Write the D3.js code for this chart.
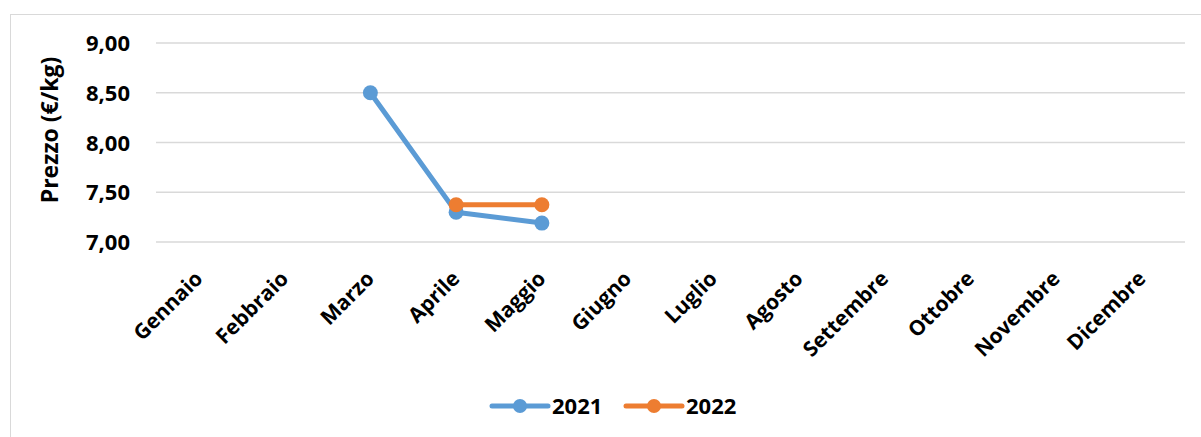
<!DOCTYPE html>
<html>
<head>
<meta charset="utf-8">
<script src="https://cdn.jsdelivr.net/npm/d3@7"></script>
<style>
  body { margin: 0; background: #fff; }
  svg text { font-family: "Open Sans", sans-serif; font-weight: bold; fill: #000; }
</style>
</head>
<body>
<div id="chart"></div>
<script>
var months = ["Gennaio", "Febbraio", "Marzo", "Aprile", "Maggio", "Giugno",
  "Luglio", "Agosto", "Settembre", "Ottobre", "Novembre", "Dicembre"];
var prices2021 = [null, null, 8.50, 7.30, 7.19, null, null, null, null, null, null, null];
var prices2022 = [null, null, null, 7.375, 7.375, null, null, null, null, null, null, null];
var yTicks = [7.0, 7.5, 8.0, 8.5, 9.0];
var seriesNames = ["2021", "2022"];
var seriesColors = ["#5B9BD5", "#ED7D31"];

var svgWidth = 1201;
var svgHeight = 437;

var margin = { top: 43, right: 16, bottom: 195, left: 156 };
var width = svgWidth - margin.left - margin.right;
var height = svgHeight - margin.top - margin.bottom;

var svg = d3.select("#chart")
  .append("svg")
  .attr("width", svgWidth)
  .attr("height", svgHeight);

// chart area border
svg.append("rect")
  .attr("x", 10.5)
  .attr("y", 14.5)
  .attr("width", 1200)
  .attr("height", 440)
  .attr("fill", "none")
  .attr("stroke", "#d9d9d9")
  .attr("stroke-width", 1);

var chartGroup = svg.append("g")
  .attr("transform", `translate(${margin.left}, ${margin.top})`);

var xScale = d3.scaleBand()
  .domain(months)
  .range([0, width]);

var yScale = d3.scaleLinear()
  .domain([7, 9])
  .range([height, 0]);

// gridlines
chartGroup.selectAll(".grid")
  .data(yTicks)
  .enter()
  .append("line")
  .attr("x1", 0)
  .attr("x2", width)
  .attr("y1", d => yScale(d))
  .attr("y2", d => yScale(d))
  .attr("stroke", "#d9d9d9")
  .attr("stroke-width", 1.5);

// y axis labels
var leftAxis = d3.axisLeft(yScale)
  .tickValues(yTicks)
  .tickSize(0)
  .tickPadding(26)
  .tickFormat(d => d3.format(".2f")(d).replace(".", ","));

var yAxis = chartGroup.append("g").call(leftAxis);
yAxis.select(".domain").remove();
yAxis.selectAll("text")
  .attr("font-family", "Open Sans")
  .attr("font-size", 22)
  .attr("dy", "0.35em");

// x axis labels, rotated
chartGroup.append("g")
  .selectAll("text")
  .data(months)
  .enter()
  .append("text")
  .attr("text-anchor", "end")
  .attr("font-size", 21)
  .attr("transform", d => `translate(${xScale(d) + xScale.bandwidth() / 2 + 5}, ${height + 38}) rotate(-45)`)
  .text(d => d);

// y title
svg.append("text")
  .attr("transform", "translate(58, 130) rotate(-90)")
  .attr("text-anchor", "middle")
  .attr("font-size", 23)
  .text("Prezzo (€/kg)");

// lines
var allSeries = [prices2021, prices2022];
var line = d3.line()
  .defined(d => d !== null)
  .x((d, i) => xScale(months[i]) + xScale.bandwidth() / 2)
  .y(d => yScale(d));

allSeries.forEach(function(values, s) {
  chartGroup.append("path")
    .datum(values)
    .attr("fill", "none")
    .attr("stroke", seriesColors[s])
    .attr("stroke-width", 5)
    .attr("stroke-linejoin", "round")
    .attr("stroke-linecap", "round")
    .attr("d", line);

  chartGroup.selectAll(".pt" + s)
    .data(values.map((v, i) => ({ v: v, i: i })).filter(d => d.v !== null))
    .enter()
    .append("circle")
    .attr("cx", d => xScale(months[d.i]) + xScale.bandwidth() / 2)
    .attr("cy", d => yScale(d.v))
    .attr("r", 7.5)
    .attr("fill", seriesColors[s]);
});

// legend
var legendX = [492, 626];
seriesNames.forEach(function(name, s) {
  var lg = svg.append("g")
    .attr("transform", `translate(${legendX[s]}, 406)`);
  lg.append("line")
    .attr("x1", 0)
    .attr("x2", 56)
    .attr("stroke", seriesColors[s])
    .attr("stroke-width", 5)
    .attr("stroke-linecap", "round");
  lg.append("circle")
    .attr("cx", 28)
    .attr("r", 7)
    .attr("fill", seriesColors[s]);
  lg.append("text")
    .attr("x", 60)
    .attr("dy", "0.35em")
    .attr("font-size", 22)
    .text(name);
});
</script>
</body>
</html>
